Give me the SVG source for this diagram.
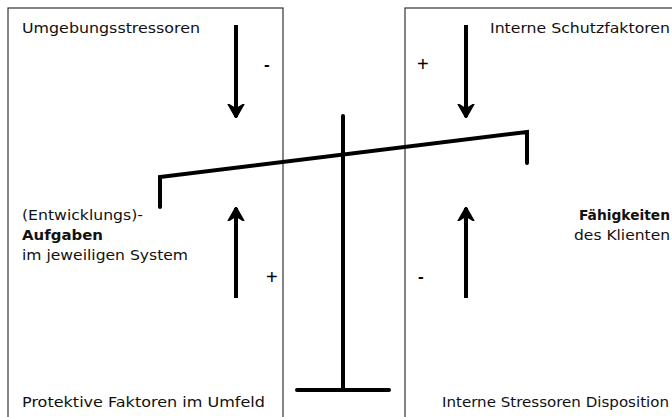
<svg xmlns="http://www.w3.org/2000/svg" width="672" height="417" viewBox="0 0 672 417">
<style>
text{font-family:"DejaVu Sans","Liberation Sans",sans-serif;font-size:14px;fill:#111}
.b{font-weight:bold}
.s{font-family:"Liberation Sans",sans-serif;font-size:17px;font-weight:bold;fill:#000}
.p{font-family:"Liberation Sans",sans-serif;font-size:20px;fill:#000}
.box{fill:none;stroke:#333;stroke-width:1.2}
.ar{stroke:#000;stroke-width:4;fill:none;marker-end:url(#ah)}
.bal{stroke:#000;stroke-width:4;fill:none;stroke-linecap:round;stroke-linejoin:miter}
</style>
<defs>
<marker id="ah" viewBox="0 0 14 18" refX="13" refY="9" markerWidth="14" markerHeight="18" markerUnits="userSpaceOnUse" orient="auto">
<path d="M0,1 L14,9 L0,17 L5,9 Z" fill="#000" stroke="#000" stroke-width="1.5" stroke-linejoin="round"/>
</marker>
</defs>
<rect width="672" height="417" fill="#fff"/>
<g id="left-box">
<rect class="box" x="8" y="8" width="275" height="420"/>
<text x="22" y="33" textLength="178" lengthAdjust="spacingAndGlyphs">Umgebungsstressoren</text>
<text x="22" y="220" textLength="121" lengthAdjust="spacingAndGlyphs">(Entwicklungs)-</text>
<text x="22" y="240" class="b" textLength="81" lengthAdjust="spacingAndGlyphs">Aufgaben</text>
<text x="22" y="260" textLength="166" lengthAdjust="spacingAndGlyphs">im jeweiligen System</text>
<text x="22" y="407" textLength="243" lengthAdjust="spacingAndGlyphs">Protektive Faktoren im Umfeld</text>
<text x="264" y="70" class="s">-</text>
<text x="266" y="284" class="p">+</text>
</g>
<g id="right-box">
<rect class="box" x="405" y="8" width="290" height="420"/>
<text x="490" y="33" textLength="180" lengthAdjust="spacingAndGlyphs">Interne Schutzfaktoren</text>
<text x="579" y="220" class="b" textLength="91" lengthAdjust="spacingAndGlyphs">Fähigkeiten</text>
<text x="574" y="240" textLength="96" lengthAdjust="spacingAndGlyphs">des Klienten</text>
<text x="442" y="407" textLength="227" lengthAdjust="spacingAndGlyphs">Interne Stressoren Disposition</text>
<text x="417" y="71" class="p">+</text>
<text x="418" y="282" class="s">-</text>
</g>
<g id="connectors">
<line class="ar" x1="236" y1="25" x2="236" y2="117"/>
<line class="ar" x1="466" y1="25" x2="466" y2="117"/>
<line class="ar" x1="236" y1="298" x2="236" y2="208"/>
<line class="ar" x1="466" y1="298" x2="466" y2="208"/>
</g>
<g id="balance">
<polyline class="bal" points="160,207 160,177 527,132 527,163"/>
<line class="bal" x1="343" y1="116" x2="343" y2="390"/>
<line class="bal" x1="297" y1="390" x2="389" y2="390"/>
</g>
</svg>
